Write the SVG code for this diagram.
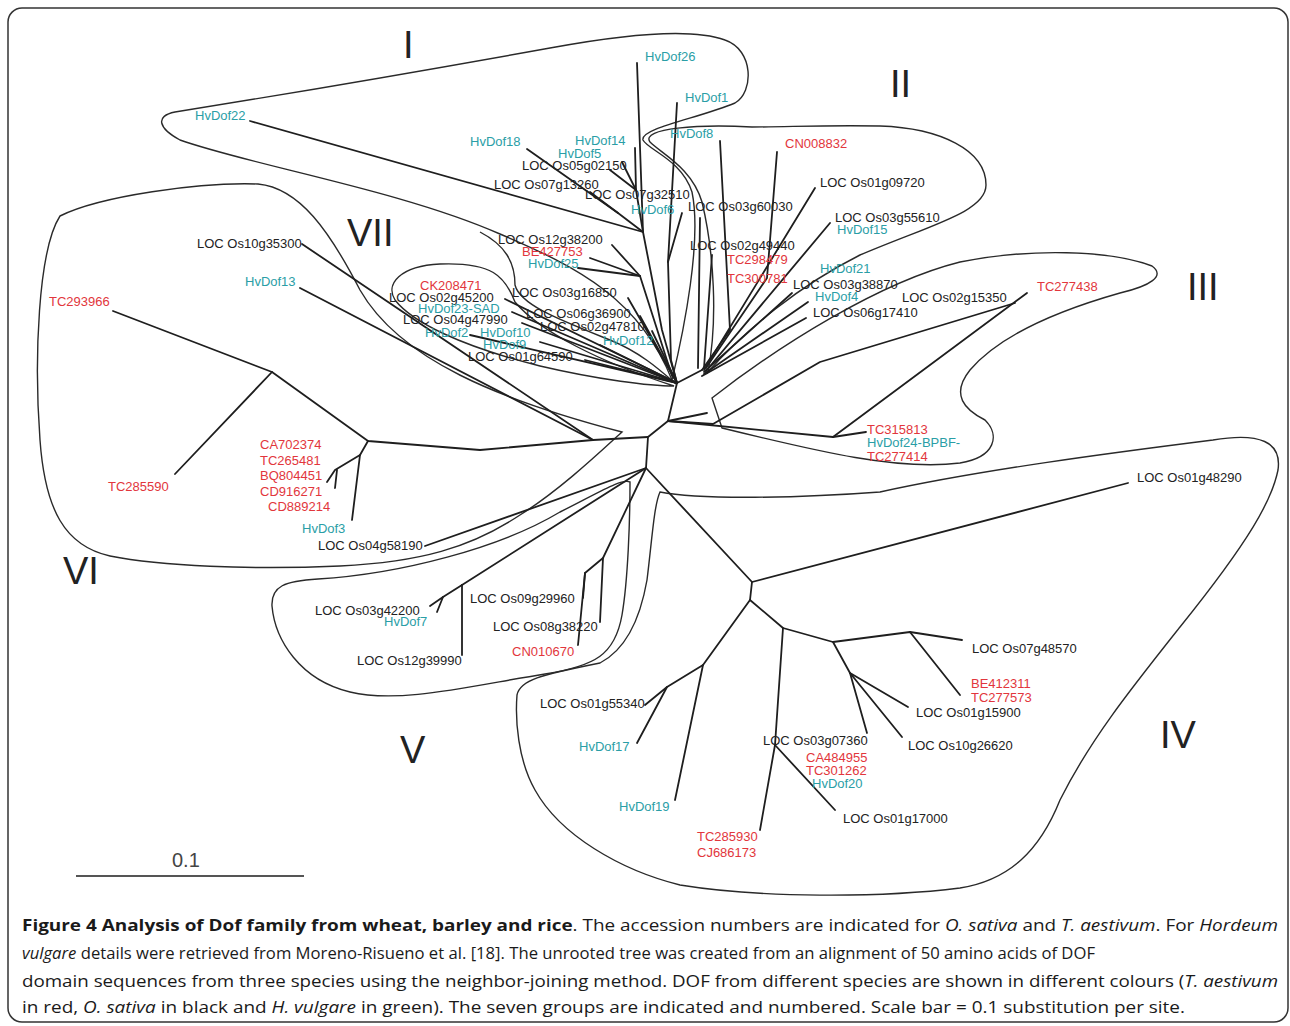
<svg xmlns="http://www.w3.org/2000/svg" width="1290" height="1026" viewBox="0 0 1290 1026">
<style>
text{font-family:"Liberation Sans",Arial,sans-serif;font-size:13px}
.b{fill:#222}
.r{fill:#e2363c}
.g{fill:#2a9ea6}
.num{font-size:38px;fill:#222}
.br{fill:none;stroke:#1e1e1e;stroke-width:1.8;stroke-linecap:round;stroke-linejoin:round}
.ol{fill:none;stroke:#2a2a2a;stroke-width:1.4}
.cap{font-family:"Open Sans","DejaVu Sans",sans-serif;font-size:16.5px;fill:#1a1a1a}
</style>
<rect x="8" y="8" width="1280" height="1014" rx="14" fill="#fff" stroke="#333" stroke-width="1.5"/>

<g id="outlines">
<path id="groupI" class="ol" d="M643,140 C640,128 700,118 735,103 C754,92 754,50 725,40 C690,27 620,35 550,48 C400,75 250,100 175,112 C155,116 158,128 180,140 C250,165 400,190 500,234 C580,268 640,300 672,380 C684,330 702,240 692,192 C682,160 648,150 643,140 Z"/>
<path id="groupII" class="ol" d="M752,127 C700,124 640,128 650,142 C662,154 692,168 702,202 C714,252 718,320 708,372 C745,330 800,285 860,255 C930,225 986,212 986,185 C986,150 940,128 880,126 C820,125 790,127 752,127 Z"/>
<path id="groupIII" class="ol" d="M712,398 C780,345 880,282 960,262 C1030,248 1110,250 1152,266 C1166,276 1150,286 1120,293 C1060,310 1000,335 970,370 C950,395 965,410 985,420 C1000,435 996,457 960,463 C900,471 820,452 722,428 Z"/>
<path id="groupIV" class="ol" d="M660,492 C700,500 800,498 880,492 C980,470 1110,453 1213,440 C1260,432 1282,442 1278,470 C1272,500 1250,540 1180,627 C1130,690 1090,740 1060,800 C1040,850 1010,880 960,888 C880,898 760,898 680,885 C620,870 560,835 535,790 C518,760 515,720 517,695 C520,680 540,675 600,663 C625,650 640,620 647,580 C652,540 654,505 660,492 Z"/>
<path id="groupV" class="ol" d="M630,482 C630,520 628,580 622,615 C615,655 595,666 545,674 C470,686 400,704 350,692 C300,680 275,640 272,606 C271,586 285,581 318,579 C400,574 500,548 560,512 C600,492 622,478 630,482 Z"/>
<path id="groupVI" class="ol" d="M60,216 C100,196 200,182 258,184 C300,188 330,232 360,290 C400,360 500,400 622,432 C600,452 560,490 520,515 C470,548 420,562 340,566 C250,570 160,566 110,556 C65,546 45,510 40,440 C34,360 38,250 60,216 Z"/>
<path id="groupVIIa" class="ol" d="M674,386 C600,362 540,332 515,302 C505,276 492,262 440,264 C400,266 385,284 395,300 C412,322 460,346 540,366 C600,380 650,386 674,386 Z"/>
<path id="groupVIIb" class="ol" d="M480,232 C505,245 515,262 515,285 C520,305 560,320 610,340 C640,352 660,370 676,384"/>
</g>

<g id="connectors">
<polyline class="br" points="677,383 668,421 648,437 646,468"/>
<polyline class="br" points="677,383 662,330 643,232 637,63"/>
<line class="br" x1="643" y1="232" x2="250" y2="121"/>
<polyline class="br" points="643,232 636,190 635,148"/>
<line class="br" x1="636" y1="190" x2="610" y2="170"/>
<line class="br" x1="636" y1="190" x2="622" y2="162"/>
<polyline class="br" points="643,232 618,213 527,149"/>
<line class="br" x1="618" y1="213" x2="590" y2="192"/>
<polyline class="br" points="677,103 668,262 671,360 677,383"/>
<line class="br" x1="682" y1="213" x2="668" y2="262"/>
<line class="br" x1="677" y1="383" x2="702" y2="370"/>
<polyline class="br" points="720,141 730,330 702,370"/>
<polyline class="br" points="777,152 767,278 706,368"/>
<line class="br" x1="700" y1="218" x2="698" y2="368"/>
<line class="br" x1="712" y1="255" x2="704" y2="368"/>
<line class="br" x1="815" y1="188" x2="704" y2="370"/>
<line class="br" x1="830" y1="223" x2="706" y2="371"/>
<line class="br" x1="792" y1="293" x2="704" y2="372"/>
<line class="br" x1="808" y1="302" x2="704" y2="374"/>
<line class="br" x1="806" y1="318" x2="702" y2="376"/>
<polyline class="br" points="668,421 833,437 866,432"/>
<line class="br" x1="833" y1="437" x2="1027" y2="293"/>
<polyline class="br" points="668,421 713,424 820,362 1015,303"/>
<line class="br" x1="668" y1="421" x2="707" y2="413"/>
<polyline class="br" points="612,245 640,276 672,376"/>
<line class="br" x1="590" y1="258" x2="640" y2="276"/>
<line class="br" x1="578" y1="268" x2="640" y2="276"/>
<line class="br" x1="628" y1="298" x2="677" y2="383"/>
<line class="br" x1="640" y1="316" x2="677" y2="383"/>
<line class="br" x1="652" y1="331" x2="677" y2="383"/>
<line class="br" x1="505" y1="299" x2="677" y2="383"/>
<line class="br" x1="512" y1="312" x2="677" y2="383"/>
<line class="br" x1="522" y1="323" x2="677" y2="383"/>
<line class="br" x1="470" y1="335" x2="677" y2="383"/>
<line class="br" x1="540" y1="342" x2="677" y2="383"/>
<line class="br" x1="585" y1="360" x2="677" y2="383"/>
<line class="br" x1="600" y1="345" x2="677" y2="383"/>
<line class="br" x1="302" y1="244" x2="593" y2="440"/>
<line class="br" x1="300" y1="288" x2="593" y2="440"/>
<polyline class="br" points="648,437 593,440 480,450 368,441 272,372 113,311"/>
<line class="br" x1="272" y1="372" x2="175" y2="474"/>
<polyline class="br" points="368,441 360,455 352,520"/>
<polyline class="br" points="360,455 335,470 327,482"/>
<line class="br" x1="337" y1="470" x2="335" y2="488"/>
<line class="br" x1="646" y1="468" x2="425" y2="546"/>
<line class="br" x1="646" y1="468" x2="462" y2="585"/>
<line class="br" x1="462" y1="585" x2="462" y2="655"/>
<polyline class="br" points="462,585 443,597 430,606"/>
<line class="br" x1="443" y1="597" x2="437" y2="612"/>
<polyline class="br" points="646,468 603,558 600,622"/>
<polyline class="br" points="603,558 585,573 583,598"/>
<line class="br" x1="585" y1="573" x2="578" y2="645"/>
<polyline class="br" points="646,468 752,582 750,600"/>
<line class="br" x1="752" y1="582" x2="1128" y2="483"/>
<polyline class="br" points="750,600 703,665 667,687 645,705"/>
<line class="br" x1="667" y1="687" x2="637" y2="743"/>
<line class="br" x1="703" y1="665" x2="675" y2="800"/>
<polyline class="br" points="750,600 783,628 775,745 760,830"/>
<line class="br" x1="775" y1="745" x2="835" y2="810"/>
<polyline class="br" points="783,628 833,642 910,632 962,640"/>
<line class="br" x1="910" y1="632" x2="960" y2="695"/>
<polyline class="br" points="833,642 850,673 902,737"/>
<line class="br" x1="850" y1="673" x2="908" y2="707"/>
<line class="br" x1="850" y1="673" x2="867" y2="733"/>
</g>

<g id="labels">
<g id="n-hvdof26"><text class="g" x="645" y="61">HvDof26</text></g>
<g id="n-hvdof1"><text class="g" x="685" y="102">HvDof1</text></g>
<g id="n-hvdof22"><text class="g" x="195" y="120">HvDof22</text></g>
<g id="n-hvdof18"><text class="g" x="470" y="146">HvDof18</text></g>
<g id="n-hvdof14"><text class="g" x="575" y="145">HvDof14</text></g>
<g id="n-hvdof5"><text class="g" x="558" y="158">HvDof5</text></g>
<g id="n-os05g02150"><text class="b" x="522" y="170">LOC Os05g02150</text></g>
<g id="n-os07g13260"><text class="b" x="494" y="189">LOC Os07g13260</text></g>
<g id="n-os07g32510"><text class="b" x="585" y="199">LOC Os07g32510</text></g>
<g id="n-hvdof6"><text class="g" x="631" y="214">HvDof6</text></g>
<g id="n-hvdof8"><text class="g" x="670" y="138">HvDof8</text></g>
<g id="n-cn008832"><text class="r" x="785" y="148">CN008832</text></g>
<g id="n-os01g09720"><text class="b" x="820" y="187">LOC Os01g09720</text></g>
<g id="n-os03g60030"><text class="b" x="688" y="211">LOC Os03g60030</text></g>
<g id="n-os03g55610"><text class="b" x="835" y="222">LOC Os03g55610</text></g>
<g id="n-hvdof15"><text class="g" x="837" y="234">HvDof15</text></g>
<g id="n-os12g38200"><text class="b" x="498" y="244">LOC Os12g38200</text></g>
<g id="n-be427753"><text class="r" x="522" y="256">BE427753</text></g>
<g id="n-hvdof25"><text class="g" x="528" y="268">HvDof25</text></g>
<g id="n-os02g49440"><text class="b" x="690" y="250">LOC Os02g49440</text></g>
<g id="n-tc298479"><text class="r" x="727" y="264">TC298479</text></g>
<g id="n-tc300781"><text class="r" x="727" y="283">TC300781</text></g>
<g id="n-hvdof21"><text class="g" x="820" y="273">HvDof21</text></g>
<g id="n-os03g38870"><text class="b" x="793" y="289">LOC Os03g38870</text></g>
<g id="n-hvdof4"><text class="g" x="815" y="301">HvDof4</text></g>
<g id="n-os02g15350"><text class="b" x="902" y="302">LOC Os02g15350</text></g>
<g id="n-os06g17410"><text class="b" x="813" y="317">LOC Os06g17410</text></g>
<g id="n-tc277438"><text class="r" x="1037" y="291">TC277438</text></g>
<g id="n-ck208471"><text class="r" x="420" y="290">CK208471</text></g>
<g id="n-os02g45200"><text class="b" x="389" y="302">LOC Os02g45200</text></g>
<g id="n-hvdof23"><text class="g" x="418" y="313">HvDof23-SAD</text></g>
<g id="n-os04g47990"><text class="b" x="403" y="324">LOC Os04g47990</text></g>
<g id="n-hvdof2"><text class="g" x="425" y="337">HvDof2</text></g>
<g id="n-hvdof10"><text class="g" x="480" y="337">HvDof10</text></g>
<g id="n-hvdof9"><text class="g" x="483" y="349">HvDof9</text></g>
<g id="n-os01g64590"><text class="b" x="468" y="361">LOC Os01g64590</text></g>
<g id="n-os03g16850"><text class="b" x="512" y="297">LOC Os03g16850</text></g>
<g id="n-os06g36900"><text class="b" x="526" y="318">LOC Os06g36900</text></g>
<g id="n-os02g47810"><text class="b" x="540" y="331">LOC Os02g47810</text></g>
<g id="n-hvdof12"><text class="g" x="603" y="345">HvDof12</text></g>
<g id="n-hvdof13"><text class="g" x="245" y="286">HvDof13</text></g>
<g id="n-os10g35300"><text class="b" x="197" y="248">LOC Os10g35300</text></g>
<g id="n-tc293966"><text class="r" x="49" y="306">TC293966</text></g>
<g id="n-tc285590"><text class="r" x="108" y="491">TC285590</text></g>
<g id="n-ca702374"><text class="r" x="260" y="449">CA702374</text></g>
<g id="n-tc265481"><text class="r" x="260" y="465">TC265481</text></g>
<g id="n-bq804451"><text class="r" x="260" y="480">BQ804451</text></g>
<g id="n-cd916271"><text class="r" x="260" y="496">CD916271</text></g>
<g id="n-cd889214"><text class="r" x="268" y="511">CD889214</text></g>
<g id="n-hvdof3"><text class="g" x="302" y="533">HvDof3</text></g>
<g id="n-os04g58190"><text class="b" x="318" y="550">LOC Os04g58190</text></g>
<g id="n-os03g42200"><text class="b" x="315" y="615">LOC Os03g42200</text></g>
<g id="n-hvdof7"><text class="g" x="384" y="626">HvDof7</text></g>
<g id="n-os09g29960"><text class="b" x="470" y="603">LOC Os09g29960</text></g>
<g id="n-os08g38220"><text class="b" x="493" y="631">LOC Os08g38220</text></g>
<g id="n-cn010670"><text class="r" x="512" y="656">CN010670</text></g>
<g id="n-os12g39990"><text class="b" x="357" y="665">LOC Os12g39990</text></g>
<g id="n-tc315813"><text class="r" x="867" y="434">TC315813</text></g>
<g id="n-hvdof24"><text class="g" x="867" y="447">HvDof24-BPBF-</text></g>
<g id="n-tc277414"><text class="r" x="867" y="461">TC277414</text></g>
<g id="n-os01g48290"><text class="b" x="1137" y="482">LOC Os01g48290</text></g>
<g id="n-os07g48570"><text class="b" x="972" y="653">LOC Os07g48570</text></g>
<g id="n-be412311"><text class="r" x="971" y="688">BE412311</text></g>
<g id="n-tc277573"><text class="r" x="971" y="702">TC277573</text></g>
<g id="n-os01g15900"><text class="b" x="916" y="717">LOC Os01g15900</text></g>
<g id="n-os10g26620"><text class="b" x="908" y="750">LOC Os10g26620</text></g>
<g id="n-os03g07360"><text class="b" x="763" y="745">LOC Os03g07360</text></g>
<g id="n-ca484955"><text class="r" x="806" y="762">CA484955</text></g>
<g id="n-tc301262"><text class="r" x="806" y="775">TC301262</text></g>
<g id="n-hvdof20"><text class="g" x="812" y="788">HvDof20</text></g>
<g id="n-os01g17000"><text class="b" x="843" y="823">LOC Os01g17000</text></g>
<g id="n-os01g55340"><text class="b" x="540" y="708">LOC Os01g55340</text></g>
<g id="n-hvdof17"><text class="g" x="579" y="751">HvDof17</text></g>
<g id="n-hvdof19"><text class="g" x="619" y="811">HvDof19</text></g>
<g id="n-tc285930"><text class="r" x="697" y="841">TC285930</text></g>
<g id="n-cj686173"><text class="r" x="697" y="857">CJ686173</text></g>
</g>

<g id="group-numbers">
<text class="num" x="403" y="58">I</text>
<text class="num" x="890" y="97">II</text>
<text class="num" x="1187" y="300">III</text>
<text class="num" x="1160" y="748">IV</text>
<text class="num" x="400" y="763">V</text>
<text class="num" x="63" y="584">VI</text>
<text class="num" x="347" y="246">VII</text>
</g>

<g id="scale">
<line x1="76" y1="876" x2="304" y2="876" stroke="#555" stroke-width="2"/>
<text x="172" y="867" style="font-size:20px;fill:#444">0.1</text>
</g>

<g id="caption">
<text class="cap" x="22" y="931" textLength="1256" lengthAdjust="spacingAndGlyphs"><tspan font-weight="bold">Figure 4 Analysis of Dof family from wheat, barley and rice</tspan>. The accession numbers are indicated for <tspan font-style="italic">O. sativa</tspan> and <tspan font-style="italic">T. aestivum</tspan>. For <tspan font-style="italic">Hordeum</tspan></text>
<text class="cap" x="22" y="959" textLength="1073" lengthAdjust="spacingAndGlyphs"><tspan font-style="italic">vulgare</tspan> details were retrieved from Moreno-Risueno et al. [18]. The unrooted tree was created from an alignment of 50 amino acids of DOF</text>
<text class="cap" x="22" y="987" textLength="1256" lengthAdjust="spacingAndGlyphs">domain sequences from three species using the neighbor-joining method. DOF from different species are shown in different colours (<tspan font-style="italic">T. aestivum</tspan></text>
<text class="cap" x="22" y="1013" textLength="1163" lengthAdjust="spacingAndGlyphs">in red, <tspan font-style="italic">O. sativa</tspan> in black and <tspan font-style="italic">H. vulgare</tspan> in green). The seven groups are indicated and numbered. Scale bar = 0.1 substitution per site.</text>
</g>
</svg>
